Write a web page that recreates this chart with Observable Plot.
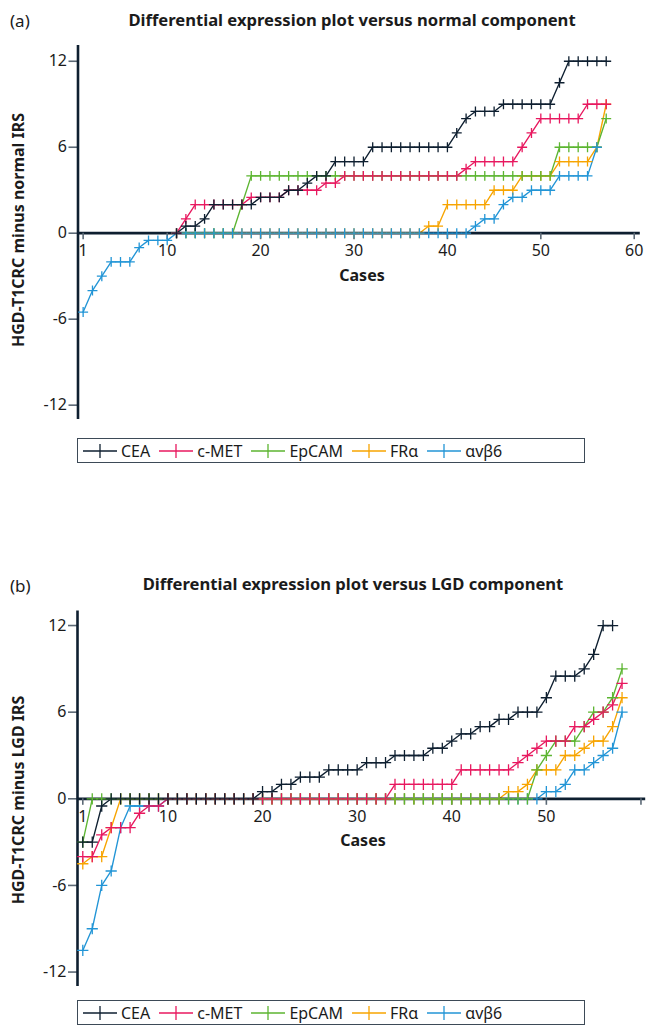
<!DOCTYPE html>
<html><head><meta charset="utf-8">
<script src="https://cdn.jsdelivr.net/npm/d3@7"></script>
<script src="https://cdn.jsdelivr.net/npm/@observablehq/plot@0.6"></script>
<style>
body{margin:0;background:#fff;font-family:"Noto Sans",sans-serif;color:#1b1b1b}
#root{position:relative;width:646px;height:1025px;overflow:hidden}
.tag{position:absolute;font-size:17px;line-height:1}
.title{position:absolute;font-weight:bold;font-size:16.6px;line-height:1;white-space:nowrap;transform:translateX(-50%)}
.ylab{position:absolute;font-weight:bold;font-size:16px;line-height:1;white-space:nowrap;transform:translate(-50%,-50%) rotate(-90deg)}
.xlab{position:absolute;font-weight:bold;font-size:16px;line-height:1;white-space:nowrap;transform:translate(-50%,-50%)}
.plot{position:absolute;left:0}
.legend{position:absolute;border:1.5px solid #3d4a57;display:flex;align-items:center;box-sizing:border-box;padding-left:5px;font-size:16px;background:#fff}
.legend .item{display:flex;align-items:center;margin-right:9px}
.legend .item span{margin-left:4px;line-height:1}
</style></head>
<body><div id="root"></div>
<script>
// ---- data ----
const seriesNames = ["CEA", "c-MET", "EpCAM", "FRα", "αvβ6"];
const seriesColors = ["#0e1f30", "#e8185f", "#5cb531", "#f7a400", "#2295d6"];

// Panel (a): versus normal component (cases 1..57); null = no point drawn
const ceaA = [null,null,null,null,null,null,null,null,null,null,0,0.5,0.5,1,2,2,2,2,2,2.5,2.5,2.5,3,3,3.5,4,4,5,5,5,5,6,6,6,6,6,6,6,6,6,7,8,8.5,8.5,8.5,9,9,9,9,9,9,10.5,12,12,12,12,12];
const metA = [null,null,null,null,null,null,null,null,null,null,0,1,2,2,2,2,2,2,2.5,2.5,2.5,2.5,3,3,3,3,3.5,3.5,4,4,4,4,4,4,4,4,4,4,4,4,4,4.5,5,5,5,5,5,6,7,8,8,8,8,8,9,9,9];
const epA  = [null,null,null,null,null,null,null,null,null,null,0,0,0,0,0,0,0,2,4,4,4,4,4,4,4,4,4,4,4,4,4,4,4,4,4,4,4,4,4,4,4,4,4,4,4,4,4,4,4,4,4,6,6,6,6,6,8];
const frA  = [null,null,null,null,null,null,null,null,null,null,0,0,0,0,0,0,0,0,0,0,0,0,0,0,0,0,0,0,0,0,0,0,0,0,0,0,0,0.5,0.5,2,2,2,2,2,3,3,3,4,4,4,4,5,5,5,5,6,9];
const avA  = [-5.5,-4,-3,-2,-2,-2,-1,-0.5,-0.5,-0.5,0,0,0,0,0,0,0,0,0,0,0,0,0,0,0,0,0,0,0,0,0,0,0,0,0,0,0,0,0,0,0,0,0.5,1,1,2,2.5,2.5,3,3,3,4,4,4,4,6];

// Panel (b): versus LGD component (cases 1..58; CEA 1..57)
const ceaB = [-3,-3,-0.5,0,0,0,0,0,0,0,0,0,0,0,0,0,0,0,0,0.5,0.5,1,1,1.5,1.5,1.5,2,2,2,2,2.5,2.5,2.5,3,3,3,3,3.5,3.5,4,4.5,4.5,5,5,5.5,5.5,6,6,6,7,8.5,8.5,8.5,9,10,12,12];
const metB = [-4,-4,-2.5,-2,-2,-2,-1,-0.5,-0.5,0,0,0,0,0,0,0,0,0,0,0,0,0,0,0,0,0,0,0,0,0,0,0,0,1,1,1,1,1,1,1,2,2,2,2,2,2,2.5,3,3.5,4,4,4,5,5,5.5,6,6.5,8];
const epB  = [-3,0,0,0,0,0,0,0,0,0,0,0,0,0,0,0,0,0,0,0,0,0,0,0,0,0,0,0,0,0,0,0,0,0,0,0,0,0,0,0,0,0,0,0,0,0,0,0,2,3,4,4,4,5,6,6,7,9];
const frB  = [-4.5,-4,-4,-2,0,0,0,0,0,0,0,0,0,0,0,0,0,0,0,0,0,0,0,0,0,0,0,0,0,0,0,0,0,0,0,0,0,0,0,0,0,0,0,0,0,0.5,0.5,1,2,2,2,3,3,3.5,4,4,5,7];
const avB  = [-10.5,-9,-6,-5,-2,-0.5,-0.5,-0.5,-0.5,0,0,0,0,0,0,0,0,0,0,0,0,0,0,0,0,0,0,0,0,0,0,0,0,0,0,0,0,0,0,0,0,0,0,0,0,0,0,0,0,0.5,0.5,1,2,2,2.5,3,3.5,6];

const yTicks = [-12, -6, 0, 6, 12];
const xTicks = [1, 10, 20, 30, 40, 50, 60];
const xTickLabelsA = ["1", "10", "20", "30", "40", "50", "60"];
const xTickLabelsB = ["1", "10", "20", "30", "40", "50", ""];

// ---- drawing ----
const root = document.getElementById("root");
const AXIS = "#0e1f30", TICK = "#5b6875";

function el(cls, text, css) {
  const d = document.createElement("div");
  d.className = cls; d.textContent = text;
  Object.assign(d.style, css);
  root.appendChild(d);
  return d;
}

function drawPanel(p) {
  const rows = p.series.map((vals, s) => vals.map((v, i) => ({s, x: i + 1, y: v})).filter(d => d.y !== null));
  const marks = [];
  marks.push(Plot.ruleX([p.xDomain[0]], {y1: p.yDomain[0], y2: p.yDomain[1], stroke: AXIS, strokeWidth: 2.6}));
  for (const s of p.order) marks.push(Plot.line(rows[s], {x: "x", y: "y", stroke: seriesColors[s], strokeWidth: 1.35}));
  marks.push(Plot.ruleY([0], {stroke: AXIS, strokeWidth: 2.8}));
  marks.push(Plot.ruleX(xTicks, {x: d => d, y1: 0, y2: -0.45, stroke: TICK, strokeWidth: 1.6}));
  marks.push(Plot.text(xTicks, {x: d => d, y: 0, dy: 18, text: (d, i) => p.xLabels[i], fontSize: 16, fill: "#1b1b1b"}));
  for (const s of p.order) marks.push(Plot.dot(rows[s], {x: "x", y: "y", symbol: "plus", r: p.r, stroke: seriesColors[s], strokeWidth: 1.3}));
  const svg = Plot.plot({
    width: 646, height: p.height,
    marginLeft: p.marginLeft, marginRight: p.marginRight,
    marginTop: p.marginTop, marginBottom: p.marginBottom,
    style: {fontFamily: "Noto Sans", fontSize: "16px", color: "#1b1b1b", background: "transparent", overflow: "visible"},
    x: {domain: p.xDomain, axis: null},
    y: {domain: p.yDomain, ticks: yTicks, tickFormat: d => String(d), tickSize: 9, tickPadding: 2, label: null},
    marks
  });
  svg.classList.add("plot");
  svg.style.top = p.top + "px";
  d3.select(svg).selectAll('[aria-label="y-axis tick"] path').attr("stroke", TICK).attr("stroke-width", 1.6);
  root.appendChild(svg);

  el("tag", p.tag, {left: "10px", top: p.tagTop + "px"});
  el("title", p.title, {left: p.titleX + "px", top: p.titleTop + "px"});
  el("ylab", p.ylab, {left: "18px", top: p.ylabY + "px"});
  el("xlab", "Cases", {left: p.casesX + "px", top: p.casesY + "px"});

  const lg = document.createElement("div");
  lg.className = "legend";
  Object.assign(lg.style, {left: "77px", top: p.legendTop + "px", width: "508px", height: "25px"});
  seriesNames.forEach((name, s) => {
    const it = document.createElement("div");
    it.className = "item";
    const sw = d3.create("svg").attr("width", 34).attr("height", 14);
    sw.append("line").attr("x1", 0).attr("x2", 34).attr("y1", 7).attr("y2", 7).attr("stroke", seriesColors[s]).attr("stroke-width", 1.4);
    sw.append("line").attr("x1", 17).attr("x2", 17).attr("y1", 0).attr("y2", 14).attr("stroke", seriesColors[s]).attr("stroke-width", 1.3);
    it.appendChild(sw.node());
    const t = document.createElement("span"); t.textContent = name;
    it.appendChild(t);
    lg.appendChild(it);
  });
  root.appendChild(lg);
}

drawPanel({
  series: [ceaA, metA, epA, frA, avA],
  order: [3, 2, 4, 1, 0],
  top: 40, height: 390, marginTop: 5, marginBottom: 11,
  marginLeft: 77.5, marginRight: 6.2,
  xDomain: [0.45, 60.65], yDomain: [-13, 13.1],
  xLabels: xTickLabelsA, r: 3.3,
  tag: "(a)", tagTop: 12,
  title: "Differential expression plot versus normal component", titleX: 352, titleTop: 12,
  ylab: "HGD-T1CRC minus normal IRS", ylabY: 230,
  casesX: 362, casesY: 275,
  legendTop: 438
});

drawPanel({
  series: [ceaB, metB, epB, frB, avB],
  order: [4, 3, 2, 1, 0],
  top: 600, height: 400, marginTop: 10.6, marginBottom: 14,
  marginLeft: 77, marginRight: 0.8,
  xDomain: [0.44, 60.5], yDomain: [-13, 13],
  xLabels: xTickLabelsB, r: 3.7,
  tag: "(b)", tagTop: 577,
  title: "Differential expression plot versus LGD component", titleX: 353, titleTop: 576,
  ylab: "HGD-T1CRC minus LGD IRS", ylabY: 800,
  casesX: 363, casesY: 840,
  legendTop: 1000
});
</script></body></html>
